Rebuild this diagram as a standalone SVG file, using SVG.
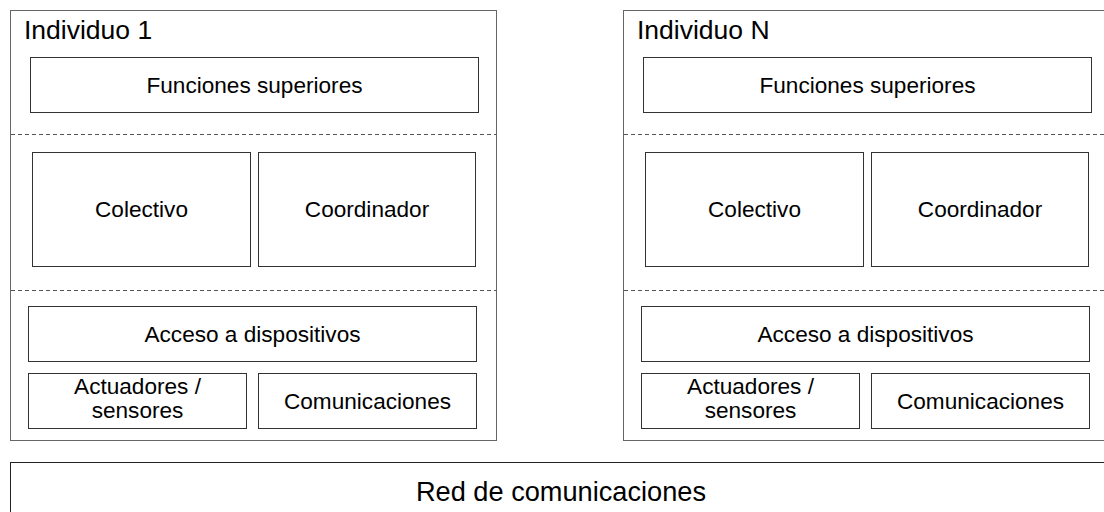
<svg xmlns="http://www.w3.org/2000/svg" width="1104" height="512" viewBox="0 0 1104 512">
<style>
.outer{fill:#fff;stroke:#666;stroke-width:1}
.box{fill:#fff;stroke:#333;stroke-width:1}
.dash{stroke:#555;stroke-width:1;stroke-dasharray:4,3;fill:none}
.lbl{font-family:"Liberation Sans",Arial,sans-serif;font-size:22.6px;fill:#000;text-anchor:middle}
.ttl{font-family:"Liberation Sans",Arial,sans-serif;font-size:26.5px;fill:#000}
.red{font-family:"Liberation Sans",Arial,sans-serif;font-size:27.2px;fill:#000;text-anchor:middle}
</style>
<rect width="1104" height="512" fill="#fff"/>
<g id="individuo1">
<rect class="outer" x="10.5" y="10.5" width="486" height="430"/>
<text class="ttl" x="24" y="38.5">Individuo 1</text>
<g id="i1-funciones"><rect class="box" x="30.5" y="57.5" width="448" height="55"/><text class="lbl" x="254.5" y="92.5">Funciones superiores</text></g>
<line class="dash" x1="11" y1="134.5" x2="496" y2="134.5"/>
<g id="i1-colectivo"><rect class="box" x="32.5" y="152.5" width="218" height="114"/><text class="lbl" x="141.5" y="217">Colectivo</text></g>
<g id="i1-coordinador"><rect class="box" x="258.5" y="152.5" width="217" height="114"/><text class="lbl" x="367" y="217">Coordinador</text></g>
<line class="dash" x1="11" y1="290.5" x2="496" y2="290.5"/>
<g id="i1-acceso"><rect class="box" x="28.5" y="306.5" width="448" height="55"/><text class="lbl" x="252.5" y="341.5">Acceso a dispositivos</text></g>
<g id="i1-actuadores"><rect class="box" x="28.5" y="373.5" width="218" height="55"/><text class="lbl" x="137.5" y="393.5">Actuadores /</text><text class="lbl" x="137.5" y="417.5">sensores</text></g>
<g id="i1-comunicaciones"><rect class="box" x="258.5" y="373.5" width="218" height="55"/><text class="lbl" x="367.5" y="408.5">Comunicaciones</text></g>
</g>
<g id="individuoN">
<rect class="outer" x="623.5" y="10.5" width="500" height="430"/>
<text class="ttl" x="637" y="38.5">Individuo N</text>
<g id="iN-funciones"><rect class="box" x="643.5" y="57.5" width="448" height="55"/><text class="lbl" x="867.5" y="92.5">Funciones superiores</text></g>
<line class="dash" x1="624" y1="134.5" x2="1104" y2="134.5"/>
<g id="iN-colectivo"><rect class="box" x="645.5" y="152.5" width="218" height="114"/><text class="lbl" x="754.5" y="217">Colectivo</text></g>
<g id="iN-coordinador"><rect class="box" x="871.5" y="152.5" width="217" height="114"/><text class="lbl" x="980" y="217">Coordinador</text></g>
<line class="dash" x1="624" y1="290.5" x2="1104" y2="290.5"/>
<g id="iN-acceso"><rect class="box" x="641.5" y="306.5" width="448" height="55"/><text class="lbl" x="865.5" y="341.5">Acceso a dispositivos</text></g>
<g id="iN-actuadores"><rect class="box" x="641.5" y="373.5" width="218" height="55"/><text class="lbl" x="750.5" y="393.5">Actuadores /</text><text class="lbl" x="750.5" y="417.5">sensores</text></g>
<g id="iN-comunicaciones"><rect class="box" x="871.5" y="373.5" width="218" height="55"/><text class="lbl" x="980.5" y="408.5">Comunicaciones</text></g>
</g>
<g id="red">
<rect x="10.5" y="462.5" width="1110" height="70" fill="#fff" stroke="#222" stroke-width="1"/>
<text class="red" x="561" y="500.5">Red de comunicaciones</text>
</g>
<g id="connectors"></g>
</svg>
